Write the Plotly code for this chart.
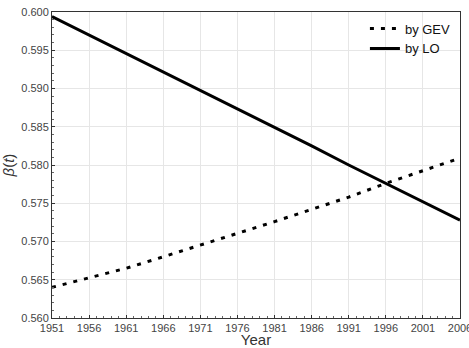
import plotly.graph_objects as go

years = [1951, 1956, 1961, 1966, 1971, 1976, 1981, 1986, 1991, 1996, 2001, 2006]
gev = [0.5640, 0.5652, 0.5665, 0.5680, 0.5695, 0.5710, 0.5726, 0.5742, 0.5758, 0.5776, 0.5792, 0.5809]
lo = [0.5994, 0.5970, 0.5946, 0.5921, 0.5897, 0.5873, 0.5849, 0.5825, 0.5800, 0.5776, 0.5752, 0.5728]
tick_years = years
y_ticks = [0.560, 0.565, 0.570, 0.575, 0.580, 0.585, 0.590, 0.595, 0.600]

fig = go.Figure()
fig.add_trace(go.Scatter(x=years, y=gev, mode="lines", name="by GEV",
                         line=dict(color="black", width=3, dash="4px,7px")))
fig.add_trace(go.Scatter(x=years, y=lo, mode="lines", name="by LO",
                         line=dict(color="black", width=3)))

font = "Liberation Sans, Arial, sans-serif"
fig.update_layout(
    width=469, height=348,
    margin=dict(l=52, r=9, t=12, b=30, autoexpand=False),
    paper_bgcolor="white", plot_bgcolor="white",
    font=dict(family=font, size=11, color="#444"),
    showlegend=True,
    legend=dict(x=0.99, y=0.995, xanchor="right", yanchor="top",
                bgcolor="rgba(0,0,0,0)", font=dict(size=13, color="#111"),
                itemwidth=30, tracegroupgap=0),
)
fig.update_xaxes(
    range=[1951, 2006], tickvals=tick_years, ticktext=[str(v) for v in tick_years],
    ticklabeloverflow="allow", tickfont=dict(size=11, color="#444"),
    automargin=False,
    showgrid=True, gridcolor="#e6e6e6", gridwidth=1,
    showline=True, linecolor="#333", linewidth=1, mirror=True,
    ticks="inside", ticklen=3, tickcolor="#333",
    minor=dict(ticks="inside", ticklen=2, dtick=1, tickcolor="#666", showgrid=False),
    title=dict(text="Year", font=dict(size=15, color="#333"), standoff=12),
    zeroline=False,
)
fig.update_yaxes(
    range=[0.560, 0.600], tickvals=y_ticks, ticktext=[f"{v:.3f}" for v in y_ticks],
    tickfont=dict(size=11, color="#444"),
    automargin=False,
    showgrid=True, gridcolor="#e6e6e6", gridwidth=1,
    showline=True, linecolor="#333", linewidth=1, mirror=True,
    ticks="inside", ticklen=3, tickcolor="#333",
    minor=dict(ticks="inside", ticklen=2, dtick=0.001, tickcolor="#666", showgrid=False),
    title=dict(text="<i>β</i>(<i>t</i>)", font=dict(size=15, color="#333"), standoff=4),
    zeroline=False,
)
fig.write_html("out.html")
